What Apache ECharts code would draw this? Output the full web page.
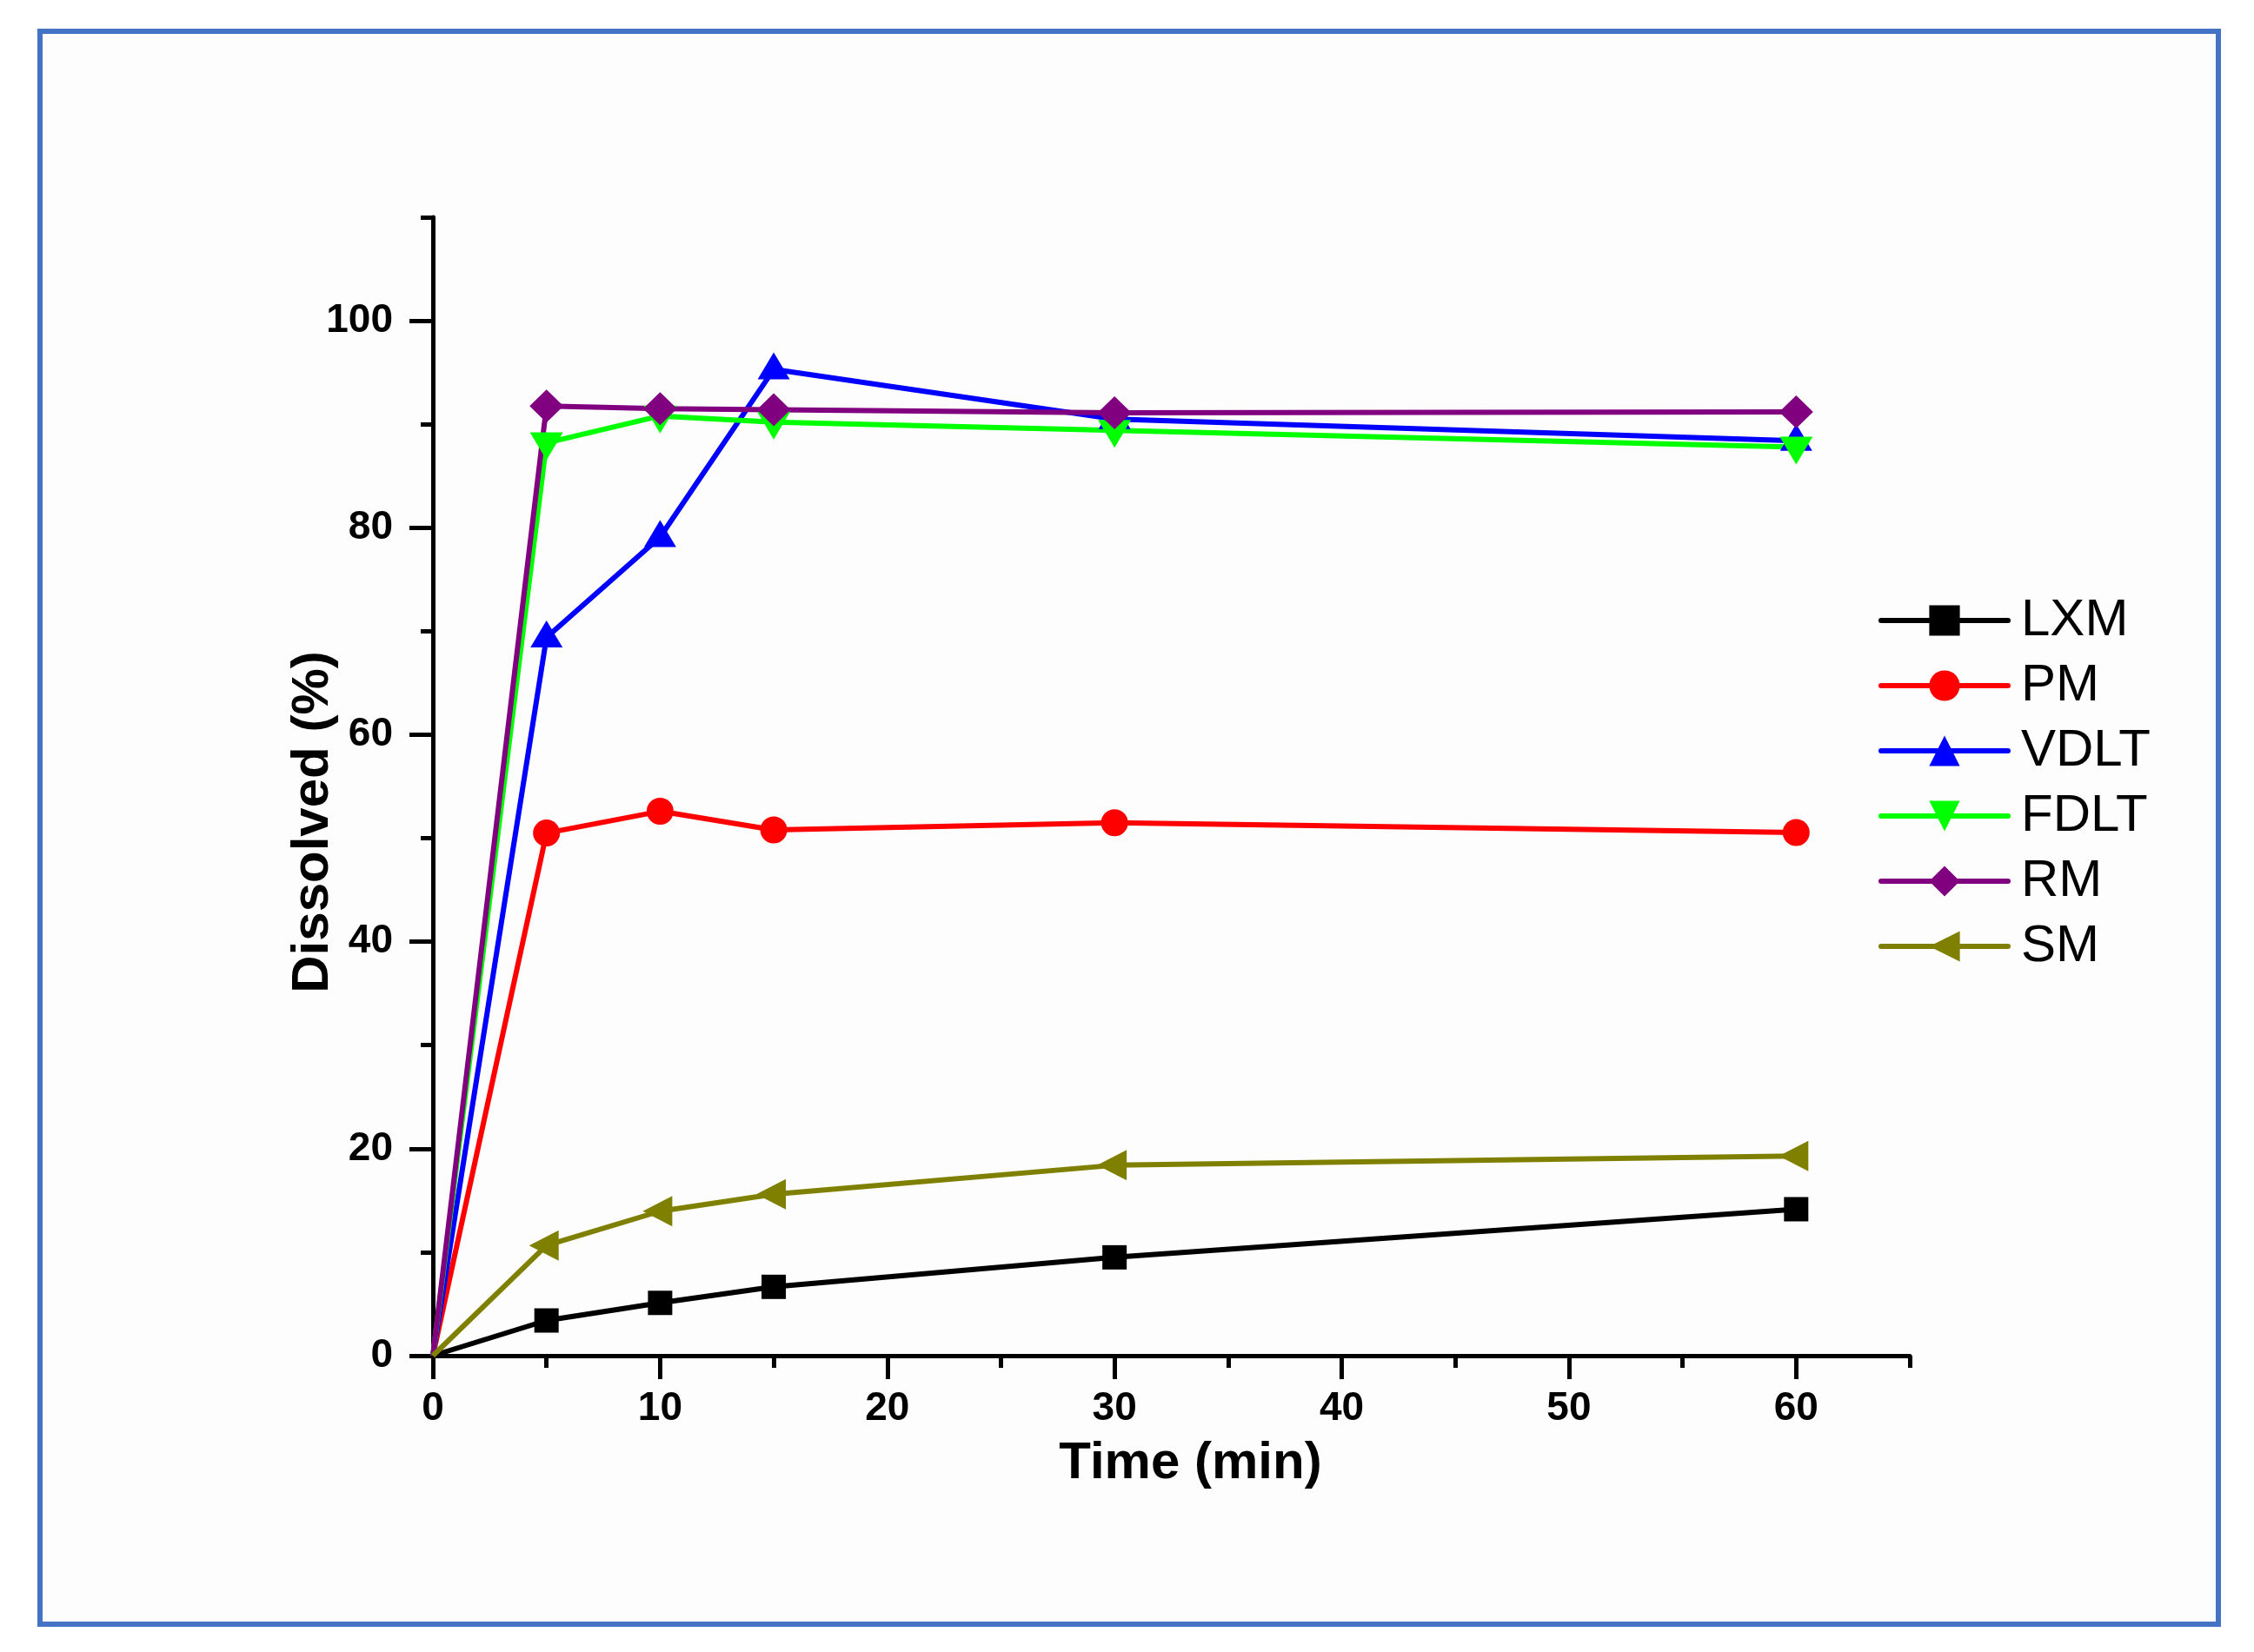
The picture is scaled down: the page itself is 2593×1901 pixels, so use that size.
<!DOCTYPE html>
<html>
<head>
<meta charset="utf-8">
<title>Dissolved (%)</title>
<script src="https://cdn.jsdelivr.net/npm/echarts@6/dist/echarts.min.js"></script>
<style>
	html, body { margin: 0; padding: 0; background: #fff; }
	#chart { width: 2593px; height: 1901px; }
</style>
</head>
<body>
<div id="chart"></div>
<script>
	// 时间点 (min)
	var timePoints = [0, 5, 10, 15, 30, 60];

	// 各样品溶出量 (%)
	var lxmValues  = [0, 3.4, 5.1, 6.65, 9.5, 14.15];
	var pmValues   = [0, 50.5, 52.6, 50.8, 51.5, 50.55];
	var vdltValues = [0, 69.4, 79.1, 95.3, 90.5, 88.4];
	var fdltValues = [0, 88.2, 90.8, 90.2, 89.4, 87.8];
	var rmValues   = [0, 91.75, 91.5, 91.4, 91.1, 91.2];
	var smValues   = [0, 10.65, 13.96, 15.6, 18.4, 19.3];

	// 刻度
	var xMajorTicks = [0, 10, 20, 30, 40, 50, 60];
	var xMinorTicks = [5, 15, 25, 35, 45, 55, 65];
	var yMajorTicks = [0, 20, 40, 60, 80, 100];
	var yMinorTicks = [10, 30, 50, 70, 90, 110];

	var FONT = 'Arial, "Liberation Sans", sans-serif';

	/**
	 * 生成折线数据, t=0 的点不画标记
	 * @param {array} values
	 */
	function buildData(values) {
		var arr = [];
		for (var i = 0; i < timePoints.length; i++) {
			var item = { value: [timePoints[i], values[i]] };
			if (timePoints[i] === 0) {
				item.symbol = 'none';
			}
			arr.push(item);
		}
		return arr;
	}

	function makeSeries(name, values, color, symbol, size, rotate, offset) {
		return {
			name: name,
			type: 'line',
			xAxisIndex: 0,
			yAxisIndex: 0,
			data: buildData(values),
			symbol: symbol,
			symbolSize: size,
			symbolRotate: rotate || 0,
			symbolOffset: offset || [0, 0],
			symbolKeepAspect: false,
			showAllSymbol: true,
			clip: false,
			lineStyle: { color: color, width: 6 },
			itemStyle: { color: color },
			emphasis: { disabled: true },
			animation: false
		};
	}

	var gridBox = { left: 498, top: 250, width: 1699, height: 1310 };

	var myChart = echarts.init(document.getElementById('chart'), null, { renderer: 'canvas' });

	myChart.setOption({
		backgroundColor: '#ffffff',
		animation: false,
		graphic: [
			{
				type: 'rect',
				shape: { x: 46, y: 36, width: 2506, height: 1833 },
				style: { fill: '#fdfdfd', stroke: '#4472C4', lineWidth: 6 },
				z: -10
			}
		],
		// 两个重叠的grid: 第二个只画次刻度
		grid: [
			{ left: gridBox.left, top: gridBox.top, width: gridBox.width, height: gridBox.height },
			{ left: gridBox.left, top: gridBox.top, width: gridBox.width, height: gridBox.height }
		],
		legend: {
			orient: 'vertical',
			left: 2161,
			top: 684,
			padding: 0,
			itemWidth: 146,
			itemHeight: 44,
			itemGap: 15,
			data: ['LXM', 'PM', 'VDLT', 'FDLT', 'RM', 'SM'],
			lineStyle: { width: 6, cap: 'round' },
			textStyle: {
				color: '#000',
				fontSize: 60,
				fontFamily: FONT,
				padding: [0, 0, 0, 10]
			}
		},
		xAxis: [
			{
				type: 'value',
				gridIndex: 0,
				min: 0,
				max: 65,
				interval: 5,
				name: 'Time (min)',
				nameLocation: 'middle',
				nameGap: 94,
				nameMoveOverlap: false,
				nameTextStyle: {
					color: '#000',
					fontSize: 60,
					fontWeight: 'bold',
					fontFamily: FONT,
					padding: [0, 0, 0, 44]
				},
				axisLine: { onZero: false, lineStyle: { color: '#000', width: 5 } },
				axisTick: { customValues: xMajorTicks, length: 27, lineStyle: { color: '#000', width: 5 } },
				axisLabel: {
					customValues: xMajorTicks,
					margin: 38,
					color: '#000',
					fontSize: 46,
					fontWeight: 'bold',
					fontFamily: FONT
				},
				splitLine: { show: false }
			},
			{
				type: 'value',
				gridIndex: 1,
				min: 0,
				max: 65,
				interval: 5,
				axisLine: { show: false },
				axisTick: { customValues: xMinorTicks, length: 14, lineStyle: { color: '#000', width: 5 } },
				axisLabel: { show: false },
				splitLine: { show: false }
			}
		],
		yAxis: [
			{
				type: 'value',
				gridIndex: 0,
				min: 0,
				max: 110,
				interval: 10,
				name: 'Dissolved (%)',
				nameLocation: 'middle',
				nameGap: 108,
				nameMoveOverlap: false,
				nameRotate: 90,
				nameTextStyle: {
					color: '#000',
					fontSize: 60,
					fontWeight: 'bold',
					fontFamily: FONT,
					padding: [0, 82, 0, 0]
				},
				axisLine: { onZero: false, lineStyle: { color: '#000', width: 5 } },
				axisTick: { customValues: yMajorTicks, length: 27, lineStyle: { color: '#000', width: 5 } },
				axisLabel: {
					customValues: yMajorTicks,
					margin: 46,
					color: '#000',
					fontSize: 46,
					fontWeight: 'bold',
					fontFamily: FONT
				},
				splitLine: { show: false }
			},
			{
				type: 'value',
				gridIndex: 1,
				min: 0,
				max: 110,
				interval: 10,
				axisLine: { show: false },
				axisTick: { customValues: yMinorTicks, length: 14, lineStyle: { color: '#000', width: 5 } },
				axisLabel: { show: false },
				splitLine: { show: false }
			}
		],
		series: [
			makeSeries('LXM', lxmValues, '#000000', 'rect', 28),
			makeSeries('PM', pmValues, '#ff0000', 'circle', 31),
			makeSeries('VDLT', vdltValues, '#0000ff', 'triangle', [37, 31], 0, [0, -4]),
			makeSeries('FDLT', fdltValues, '#00ff00', 'triangle', [38, 32], 180, [0, 4]),
			makeSeries('RM', rmValues, '#800080', 'diamond', [39, 38]),
			makeSeries('SM', smValues, '#808000', 'triangle', [35, 34], 90, [-3, 0])
		]
	});
</script>
</body>
</html>
